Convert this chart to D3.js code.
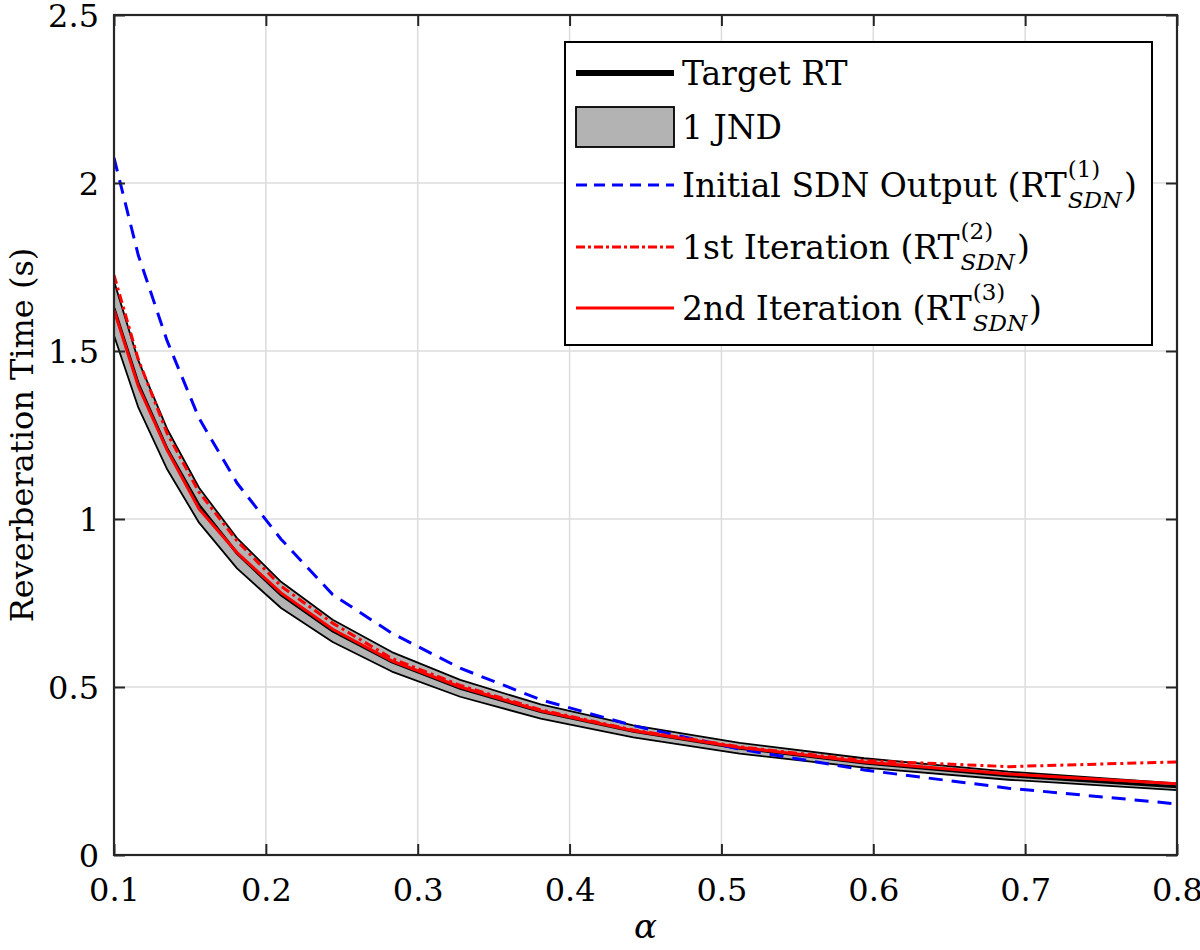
<!DOCTYPE html>
<html>
<head>
<meta charset="utf-8">
<script src="https://cdn.jsdelivr.net/npm/d3@7"></script>
<style>
  body { margin: 0; background: #fff; }
  svg text { font-family: "DejaVu Serif", "Liberation Serif", serif; fill: #000; }
</style>
</head>
<body>
<svg id="chart" width="1200" height="950"></svg>
<script>
// absorption coefficient values (x)
var alpha = [0.100, 0.116, 0.135, 0.156, 0.181, 0.210, 0.244, 0.283, 0.328, 0.381, 0.442, 0.512, 0.594, 0.689, 0.800];
// reverberation times (s)
var targetRT = [1.627, 1.402, 1.208, 1.041, 0.898, 0.774, 0.667, 0.575, 0.496, 0.427, 0.368, 0.318, 0.274, 0.236, 0.203];
var jndHigh  = [1.708, 1.472, 1.268, 1.093, 0.943, 0.813, 0.700, 0.604, 0.521, 0.448, 0.386, 0.334, 0.288, 0.248, 0.213];
var jndLow   = [1.546, 1.332, 1.148, 0.989, 0.853, 0.735, 0.634, 0.546, 0.471, 0.406, 0.350, 0.302, 0.260, 0.224, 0.193];
var initialRT = [2.075, 1.785, 1.530, 1.300, 1.107, 0.940, 0.775, 0.660, 0.556, 0.462, 0.385, 0.315, 0.253, 0.199, 0.152];
var iter1RT  = [1.726, 1.475, 1.255, 1.080, 0.935, 0.800, 0.690, 0.585, 0.505, 0.432, 0.372, 0.322, 0.281, 0.263, 0.277];
var iter2RT  = [1.622, 1.395, 1.205, 1.030, 0.900, 0.780, 0.672, 0.578, 0.500, 0.429, 0.370, 0.320, 0.277, 0.241, 0.212];

var xTicks = [0.1, 0.2, 0.3, 0.4, 0.5, 0.6, 0.7, 0.8];
var yTicks = [0, 0.5, 1, 1.5, 2, 2.5];

// legend entries: label, superscript index
var legendItems = [
  {label: 'Target RT', sup: null},
  {label: '1 JND', sup: null},
  {label: 'Initial SDN Output (RT', sup: '(1)'},
  {label: '1st Iteration (RT', sup: '(2)'},
  {label: '2nd Iteration (RT', sup: '(3)'}
];

var margin = {top: 15, right: 23, bottom: 95, left: 114},
    width = 1200 - margin.left - margin.right,
    height = 950 - margin.top - margin.bottom;

var svg = d3.select('#chart');
var g = svg.append('g')
  .attr('transform', 'translate(' + margin.left + ',' + margin.top + ')');

var x = d3.scaleLinear().domain([0.1, 0.8]).range([0, width]);
var y = d3.scaleLinear().domain([0, 2.5]).range([height, 0]);

// grid
g.append('g').selectAll('line')
  .data(xTicks.slice(1, -1)).enter().append('line')
  .attr('x1', function(d) { return x(d); }).attr('x2', function(d) { return x(d); })
  .attr('y1', 0).attr('y2', height)
  .attr('stroke', '#dcdcdc').attr('stroke-width', 1.5);
g.append('g').selectAll('line')
  .data(yTicks.slice(1, -1)).enter().append('line')
  .attr('y1', function(d) { return y(d); }).attr('y2', function(d) { return y(d); })
  .attr('x1', 0).attr('x2', width)
  .attr('stroke', '#dcdcdc').attr('stroke-width', 1.5);

svg.append('defs').append('clipPath').attr('id', 'clip')
  .append('rect').attr('width', width).attr('height', height);

var plot = g.append('g').attr('clip-path', 'url(#clip)');
var idx = d3.range(alpha.length);

// JND band
var band = d3.area()
  .x(function(i) { return x(alpha[i]); })
  .y0(function(i) { return y(jndLow[i]); })
  .y1(function(i) { return y(jndHigh[i]); });
plot.append('path').datum(idx)
  .attr('d', band)
  .attr('fill', '#b3b3b3')
  .attr('stroke', '#000').attr('stroke-width', 1.8).attr('stroke-linejoin', 'round');

function lineOf(arr) {
  return d3.line()
    .x(function(i) { return x(alpha[i]); })
    .y(function(i) { return y(arr[i]); });
}

plot.append('path').datum(idx).attr('d', lineOf(targetRT))
  .attr('fill', 'none').attr('stroke', '#000').attr('stroke-width', 3);
plot.append('path').datum(idx).attr('d', lineOf(initialRT))
  .attr('fill', 'none').attr('stroke', '#0000ff').attr('stroke-width', 3)
  .attr('stroke-dasharray', '14,9');
plot.append('path').datum(idx).attr('d', lineOf(iter1RT))
  .attr('fill', 'none').attr('stroke', '#ff0000').attr('stroke-width', 3)
  .attr('stroke-dasharray', '9,4,3,4');
plot.append('path').datum(idx).attr('d', lineOf(iter2RT))
  .attr('fill', 'none').attr('stroke', '#ff0000').attr('stroke-width', 3);

// axes with inward ticks on all four sides
var xAxis = d3.axisBottom(x).tickValues(xTicks).tickSize(-11).tickPadding(23).tickFormat(d3.format('.1f'));
var yAxis = d3.axisLeft(y).tickValues(yTicks).tickSize(-11).tickPadding(15).tickFormat(function(d) { return d; });

g.append('g').attr('transform', 'translate(0,' + height + ')').call(xAxis)
  .call(function(s) { s.selectAll('text').attr('font-size', 32).attr('dy', '0.72em'); });
g.append('g').call(yAxis)
  .call(function(s) { s.selectAll('text').attr('font-size', 32).attr('dy', '0.36em'); });
g.append('g').call(d3.axisTop(x).tickValues(xTicks).tickSize(-11).tickFormat(''));
g.append('g').attr('transform', 'translate(' + width + ',0)')
  .call(d3.axisRight(y).tickValues(yTicks).tickSize(-11).tickFormat(''));

g.selectAll('.domain').remove();
g.selectAll('.tick line').attr('stroke', '#262626').attr('stroke-width', 2);
g.append('rect').attr('width', width).attr('height', height)
  .attr('fill', 'none').attr('stroke', '#262626').attr('stroke-width', 2.2);

// axis titles
svg.append('text')
  .attr('x', margin.left + width / 2).attr('y', 938)
  .attr('text-anchor', 'middle').attr('font-size', 34).attr('font-style', 'italic')
  .text('\u03b1');
svg.append('text')
  .attr('transform', 'translate(33,' + (margin.top + height / 2) + ') rotate(-90)')
  .attr('text-anchor', 'middle').attr('font-size', 32)
  .text('Reverberation Time (s)');

// legend
var lg = svg.append('g');
lg.append('rect').attr('x', 565).attr('y', 42).attr('width', 587).attr('height', 303)
  .attr('fill', '#fff').attr('stroke', '#000').attr('stroke-width', 2);

var rowY = [73, 127, 185, 247, 308];
var sx0 = 576, sx1 = 674, tx = 682;

lg.append('line').attr('x1', sx0).attr('x2', sx1).attr('y1', rowY[0]).attr('y2', rowY[0])
  .attr('stroke', '#000').attr('stroke-width', 6);
lg.append('rect').attr('x', sx0).attr('y', rowY[1] - 20).attr('width', sx1 - sx0).attr('height', 40)
  .attr('fill', '#b3b3b3').attr('stroke', '#000').attr('stroke-width', 1.8);
lg.append('line').attr('x1', sx0).attr('x2', sx1).attr('y1', rowY[2]).attr('y2', rowY[2])
  .attr('stroke', '#0000ff').attr('stroke-width', 3).attr('stroke-dasharray', '11,7');
lg.append('line').attr('x1', sx0).attr('x2', sx1).attr('y1', rowY[3]).attr('y2', rowY[3])
  .attr('stroke', '#ff0000').attr('stroke-width', 3).attr('stroke-dasharray', '9,3,3,3');
lg.append('line').attr('x1', sx0).attr('x2', sx1).attr('y1', rowY[4]).attr('y2', rowY[4])
  .attr('stroke', '#ff0000').attr('stroke-width', 3);

legendItems.forEach(function(item, i) {
  var base = rowY[i] + 12;
  var t = lg.append('text').attr('x', tx).attr('y', base)
    .attr('font-size', 33).text(item.label);
  if (!item.sup) return;
  var w = t.node().getComputedTextLength();
  var sx = tx + w + 1;
  var sup = lg.append('text').attr('x', sx).attr('y', base - 20)
    .attr('font-size', 23).text(item.sup);
  var sub = lg.append('text').attr('x', sx).attr('y', base + 11)
    .attr('font-size', 23).attr('font-style', 'italic').text('SDN');
  var ww = Math.max(sup.node().getComputedTextLength(), sub.node().getComputedTextLength());
  lg.append('text').attr('x', sx + ww + 2).attr('y', base)
    .attr('font-size', 33).text(')');
});
</script>
</body>
</html>
